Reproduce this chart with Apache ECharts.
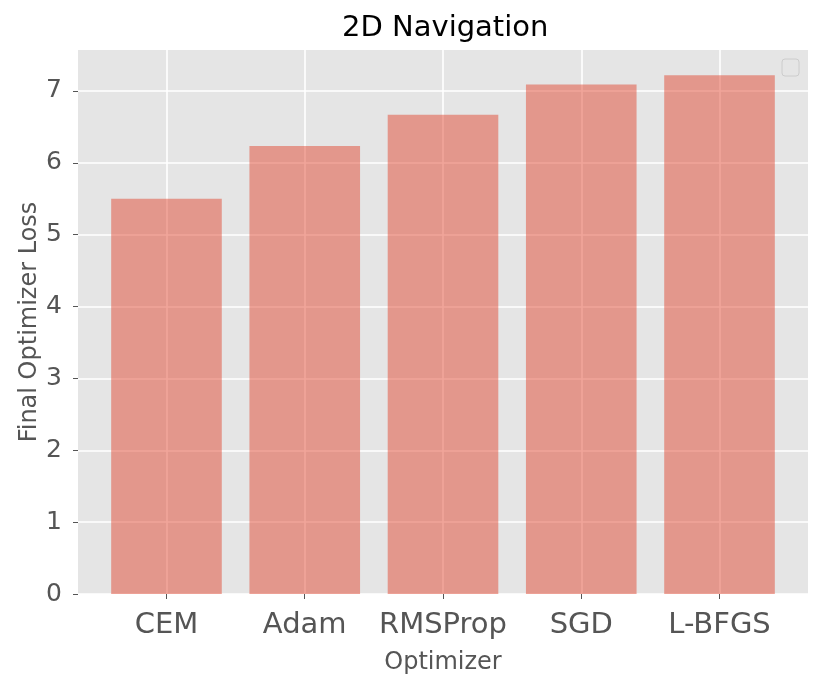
<!DOCTYPE html>
<html>
<head>
<meta charset="utf-8">
<script src="https://cdn.jsdelivr.net/npm/echarts@6/dist/echarts.min.js"></script>
<style>
html,body{margin:0;padding:0;background:#fff;}
#chart{width:831px;height:686px;}
</style>
</head>
<body>
<div id="chart"></div>
<script>
const categories = ['CEM', 'Adam', 'RMSProp', 'SGD', 'L-BFGS'];
const losses = [5.50, 6.235, 6.67, 7.09, 7.22];
const yTicks = [0, 1, 2, 3, 4, 5, 6, 7];
const xTicks = [0, 1, 2, 3, 4];

const chart = echarts.init(document.getElementById('chart'), null, {renderer: 'canvas'});
const font = 'DejaVu Sans';
chart.setOption({
  animation: false,
  backgroundColor: '#ffffff',
  title: {
    text: '2D Navigation',
    left: 337,
    top: 9,
    textStyle: {fontFamily: font, fontSize: 29, fontWeight: 'normal', color: '#000'}
  },
  grid: {
    left: 78, top: 50, right: 23, bottom: 92,
    containLabel: false,
    outerBoundsMode: 'none',
    show: true, backgroundColor: '#E5E5E5', borderWidth: 0
  },
  graphic: [{
    type: 'rect',
    shape: {x: 782, y: 59, width: 17, height: 17, r: 3},
    style: {fill: 'rgba(229,229,229,0.8)', stroke: '#cccccc', lineWidth: 1}
  }],
  xAxis: {
    type: 'value',
    min: -0.64, max: 4.64,
    name: 'Optimizer',
    nameLocation: 'middle',
    nameGap: 57,
    nameMoveOverlap: false,
    nameTextStyle: {fontFamily: font, fontSize: 24, color: '#555555'},
    axisLine: {show: false, onZero: false},
    axisTick: {show: true, length: 5, customValues: xTicks, lineStyle: {color: '#555555', width: 1}},
    axisLabel: {
      customValues: xTicks,
      margin: 17,
      fontFamily: font, fontSize: 29, color: '#555555',
      formatter: v => categories[Math.round(v)]
    },
    splitLine: {show: true, lineStyle: {color: '#ffffff', width: 1.6}}
  },
  yAxis: {
    type: 'value',
    min: 0, max: 7.57,
    name: 'Final Optimizer Loss',
    nameLocation: 'middle',
    nameGap: 36,
    nameMoveOverlap: false,
    nameTextStyle: {fontFamily: font, fontSize: 24, color: '#555555'},
    axisLine: {show: false, onZero: false},
    axisTick: {show: true, length: 5, customValues: yTicks, lineStyle: {color: '#555555', width: 1}},
    axisLabel: {
      customValues: yTicks,
      margin: 16,
      fontFamily: font, fontSize: 25, color: '#555555'
    },
    splitLine: {show: true, lineStyle: {color: '#ffffff', width: 1.6}}
  },
  series: [{
    type: 'bar',
    barWidth: '80%',
    data: losses.map((v, i) => [i, v]),
    itemStyle: {color: 'rgba(226,74,51,0.5)'}
  }]
});
</script>
</body>
</html>
